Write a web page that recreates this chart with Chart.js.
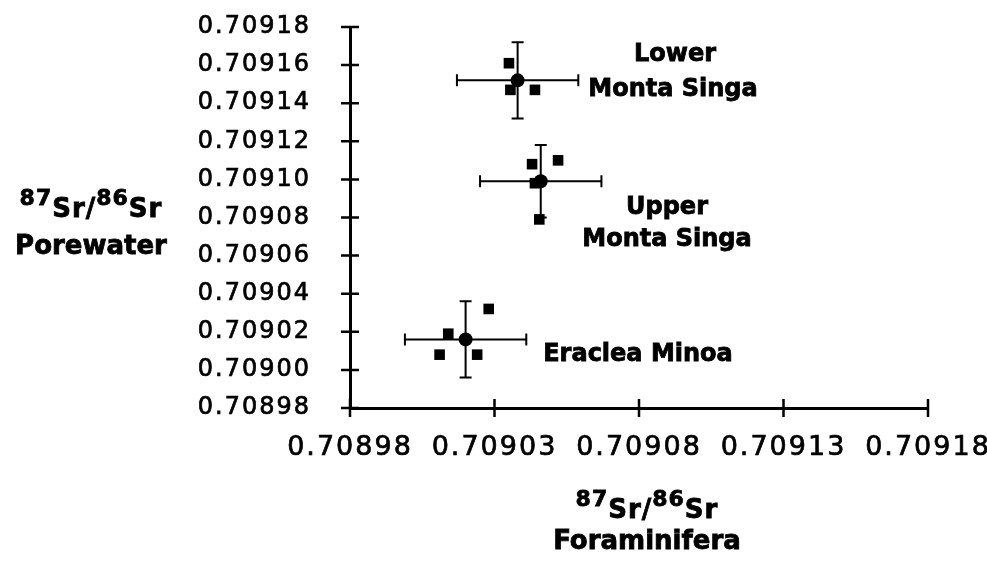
<!DOCTYPE html>
<html>
<head>
<meta charset="utf-8">
<script src="https://cdn.jsdelivr.net/npm/chart.js@4"></script>
<style>
    html, body { margin: 0; padding: 0; background: #fff; }
    #wrap { width: 987px; height: 572px; position: relative; }
</style>
</head>
<body>
<div id="wrap"><canvas id="srChart"></canvas></div>
<script>
// --- dados ---
const groupNames = ['Lower Monta Singa', 'Upper Monta Singa', 'Eraclea Minoa'];

// amostras individuais (quadrados)
const sampleForam = [0.709035, 0.709044, 0.7090355,
                     0.709043, 0.709052, 0.7090455, 0.709044,
                     0.709028, 0.709011, 0.709024, 0.709014];
const samplePore  = [0.709161, 0.709147, 0.709147,
                     0.709108, 0.709110, 0.709079, 0.709098,
                     0.709032, 0.709008, 0.709008, 0.709019];

// medias por grupo (circulos) e barras de erro
const meanForam = [0.709038, 0.709046, 0.709020];
const meanPore  = [0.709152, 0.709099, 0.709016];
const errForam  = [0.000021, 0.000021, 0.000021];
const errPore   = [0.000020, 0.000019, 0.000020];

const xTickValues = [0.70898, 0.70903, 0.70908, 0.70913, 0.70918];
const yTickValues = [0.70898, 0.70900, 0.70902, 0.70904, 0.70906, 0.70908,
                     0.70910, 0.70912, 0.70914, 0.70916, 0.70918];

const INK = '#000';
const BOLD = '"DejaVu Sans"';

// escreve texto em negrito um pouco mais pesado (como no original)
function heavyText(ctx, txt, x, y) {
    ctx.fillText(txt, x, y);
    ctx.strokeText(txt, x, y);
}

// texto 87Sr/86Sr com sobrescritos
function drawRatio(ctx, cx, baseY) {
    const parts = [
        { t: '87', sup: true }, { t: 'Sr' }, { t: '/' }, { t: '86', sup: true }, { t: 'Sr' }
    ];
    ctx.letterSpacing = '1px';
    let total = 0;
    parts.forEach(p => {
        ctx.font = p.sup ? `bold 22px ${BOLD}` : `bold 26px ${BOLD}`;
        p.w = ctx.measureText(p.t).width;
        total += p.w;
    });
    let xPos = cx - total / 2;
    ctx.textAlign = 'left';
    ctx.textBaseline = 'alphabetic';
    parts.forEach(p => {
        ctx.font = p.sup ? `bold 22px ${BOLD}` : `bold 26px ${BOLD}`;
        heavyText(ctx, p.t, xPos, p.sup ? baseY - 12 : baseY);
        xPos += p.w;
    });
}

const srPlugin = {
    id: 'srPlugin',
    beforeUpdate(chart) { chart.ctx.letterSpacing = '2px'; },
    beforeDraw(chart) { chart.ctx.letterSpacing = '2px'; },
    afterDatasetsDraw(chart) {
        const { ctx, scales: { x, y } } = chart;
        ctx.save();
        ctx.strokeStyle = INK;
        ctx.lineWidth = 2;
        meanForam.forEach((mx, i) => {
            const my = meanPore[i];
            const cx = x.getPixelForValue(mx), cy = y.getPixelForValue(my);
            const x0 = x.getPixelForValue(mx - errForam[i]);
            const x1 = x.getPixelForValue(mx + errForam[i]);
            const y0 = y.getPixelForValue(my + errPore[i]);
            const y1 = y.getPixelForValue(my - errPore[i]);
            ctx.beginPath();
            ctx.moveTo(x0, cy); ctx.lineTo(x1, cy);
            ctx.moveTo(x0, cy - 6); ctx.lineTo(x0, cy + 6);
            ctx.moveTo(x1, cy - 6); ctx.lineTo(x1, cy + 6);
            ctx.moveTo(cx, y0); ctx.lineTo(cx, y1);
            ctx.moveTo(cx - 6, y0); ctx.lineTo(cx + 6, y0);
            ctx.moveTo(cx - 6, y1); ctx.lineTo(cx + 6, y1);
            ctx.stroke();
        });
        ctx.restore();
    },
    afterDraw(chart) {
        const { ctx, chartArea: a, scales: { x, y } } = chart;
        ctx.save();
        // marcas cruzando os eixos
        ctx.strokeStyle = INK;
        ctx.lineWidth = 2.5;
        ctx.beginPath();
        yTickValues.forEach(v => {
            const py = y.getPixelForValue(v);
            ctx.moveTo(a.left - 9, py); ctx.lineTo(a.left + 9, py);
        });
        xTickValues.forEach(v => {
            const px = x.getPixelForValue(v);
            ctx.moveTo(px, a.bottom - 9); ctx.lineTo(px, a.bottom + 9);
        });
        ctx.stroke();

        ctx.fillStyle = INK;
        ctx.lineWidth = 0.8;
        // rotulos dos grupos
        ctx.letterSpacing = '0px';
        ctx.font = `bold 24px ${BOLD}`;
        ctx.textAlign = 'center';
        ctx.textBaseline = 'middle';
        heavyText(ctx, 'Lower', 675, 55);
        heavyText(ctx, 'Monta Singa', 673, 90);
        heavyText(ctx, 'Upper', 667, 208);
        heavyText(ctx, 'Monta Singa', 667, 240);
        heavyText(ctx, 'Eraclea Minoa', 638, 355);

        // titulos dos eixos
        drawRatio(ctx, 91, 217);
        drawRatio(ctx, 647, 518);
        ctx.letterSpacing = '0px';
        ctx.font = `bold 26px ${BOLD}`;
        ctx.textAlign = 'center';
        ctx.textBaseline = 'middle';
        heavyText(ctx, 'Porewater', 91, 247);
        heavyText(ctx, 'Foraminifera', 647, 542);
        ctx.restore();
    }
};

new Chart(document.getElementById('srChart'), {
    type: 'scatter',
    data: {
        datasets: [
            {
                label: 'Samples',
                data: sampleForam.map((v, i) => ({ x: v, y: samplePore[i] })),
                pointStyle: 'rect',
                pointRadius: 7.5,
                backgroundColor: INK,
                borderColor: INK,
                borderWidth: 0
            },
            {
                label: 'Mean',
                data: meanForam.map((v, i) => ({ x: v, y: meanPore[i] })),
                pointStyle: 'circle',
                pointRadius: 7,
                backgroundColor: INK,
                borderColor: INK,
                borderWidth: 0
            }
        ]
    },
    options: {
        responsive: true,
        maintainAspectRatio: false,
        animation: false,
        layout: { padding: { top: 27, right: 59, bottom: 0, left: 0 } },
        plugins: {
            legend: { display: false },
            tooltip: { enabled: false }
        },
        scales: {
            x: {
                type: 'linear',
                min: xTickValues[0],
                max: xTickValues[xTickValues.length - 1],
                afterBuildTicks: s => { s.ticks = xTickValues.map(v => ({ value: v })); },
                afterFit: s => { s.height = 164; s.paddingLeft = 0; s.paddingRight = 0; },
                grid: { display: false },
                border: { display: true, color: INK, width: 3 },
                ticks: {
                    color: INK,
                    font: { family: 'DejaVu Sans', size: 27 },
                    textStrokeColor: INK,
                    textStrokeWidth: 0.7,
                    padding: 16,
                    maxRotation: 0,
                    autoSkip: false,
                    callback: v => Number(v).toFixed(5)
                }
            },
            y: {
                type: 'linear',
                min: yTickValues[0],
                max: yTickValues[yTickValues.length - 1],
                afterBuildTicks: s => { s.ticks = yTickValues.map(v => ({ value: v })); },
                afterFit: s => { s.width = 350; s.paddingTop = 0; s.paddingBottom = 0; },
                grid: { display: false },
                border: { display: true, color: INK, width: 3 },
                ticks: {
                    color: INK,
                    font: { family: 'DejaVu Sans', size: 24 },
                    textStrokeColor: INK,
                    textStrokeWidth: 0.7,
                    padding: 31,
                    autoSkip: false,
                    callback: v => Number(v).toFixed(5)
                }
            }
        }
    },
    plugins: [srPlugin]
});
</script>
</body>
</html>
